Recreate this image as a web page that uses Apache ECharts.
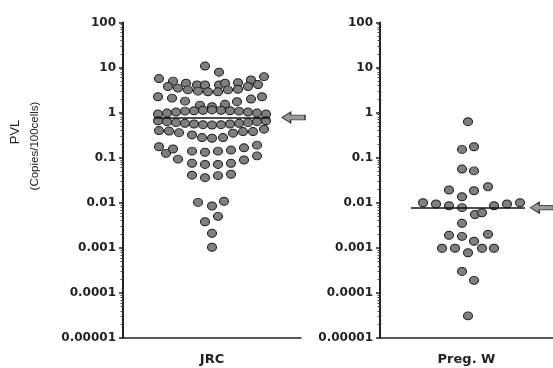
<!DOCTYPE html>
<html>
<head>
<meta charset="utf-8">
<script src="https://cdn.jsdelivr.net/npm/echarts@6/dist/echarts.min.js"></script>
<style>
  html, body { margin: 0; padding: 0; background: #fff; }
  #chart { width: 553px; height: 368px; }
</style>
</head>
<body>
<div id="chart"></div>
<script>
// groups (x-axis categories)
var categories = ["JRC", "Preg. W"];
// y-axis decade labels, 1e-5 .. 1e2
var decadeLabels = ["0.00001", "0.0001", "0.001", "0.01", "0.1", "1", "10", "100"];

// JRC: horizontal spread inside the column (beeswarm offset) and PVL values
var jrcSpread = [
  -7, 7,
  -53, -39, -26, -15, -7, 7, 13, 26, 39, 52,
  -44, -34, -24, -14, -4, 6, 16, 26, 36, 46,
  -54, -40, -27, -12, 0, 13, 25, 39, 50,
  -54, -45, -36, -27, -18, -9, 0, 9, 18, 27, 36, 45, 54,
  -54, -45, -36, -27, -18, -9, 0, 9, 18, 27, 36, 45, 54,
  -53, -43, -33, -20, -10, 0, 11, 21, 31, 41, 52,
  -53, -46, -39, -34, -20, -7, 6, 19, 32, 45,
  -20, -7, 6, 19, 32, 45,
  -20, -7, 6, 19,
  -14, 0, 12, 6, -7, 0, 0
];
var jrcValues = [
  10.8, 7.9,
  5.7, 5.0, 4.5, 4.1, 4.1, 4.1, 4.5, 4.6, 5.3, 6.3,
  3.8, 3.5, 3.2, 3.0, 2.9, 2.9, 3.2, 3.3, 3.8, 4.2,
  2.25, 2.1, 1.8, 1.47, 1.35, 1.53, 1.75, 2.0, 2.25,
  0.93, 0.98, 1.03, 1.08, 1.1, 1.13, 1.15, 1.13, 1.1, 1.08, 1.03, 0.98, 0.93,
  0.66, 0.63, 0.6, 0.58, 0.56, 0.54, 0.53, 0.54, 0.56, 0.58, 0.6, 0.63, 0.66,
  0.40, 0.39, 0.36, 0.32, 0.28, 0.27, 0.28, 0.35, 0.38, 0.38, 0.43,
  0.175, 0.125, 0.156, 0.093, 0.14, 0.132, 0.14, 0.148, 0.166, 0.19,
  0.075, 0.071, 0.071, 0.075, 0.089, 0.11,
  0.041, 0.036, 0.040, 0.043,
  0.0102, 0.0085, 0.0108, 0.005, 0.0038, 0.0021, 0.00103
];
var jrcMedian = 0.78;

// Preg. W
var pregSpread = [
  1, -5, 7, -5, 7,
  -18, -5, 7, 21,
  -44, -31, -18, -5, 27, 40, 53,
  8, 15,
  -5,
  -18, -5, 21, 7,
  -25, -12, 1, 15, 27,
  -5, 7,
  1
];
var pregValues = [
  0.63, 0.153, 0.175, 0.056, 0.051,
  0.0192, 0.0136, 0.0185, 0.0227,
  0.0100, 0.0094, 0.0086, 0.0078, 0.0086, 0.0094, 0.0100,
  0.0055, 0.0060,
  0.0035,
  0.0019, 0.0018, 0.0020, 0.0014,
  0.00098, 0.00098, 0.00078, 0.00098, 0.00098,
  0.0003, 0.00019,
  0.000031
];
var pregMedian = 0.0078;

function zip(xs, ys) {
  return xs.map(function (x, i) { return [x, ys[i]]; });
}

var chart = echarts.init(document.getElementById("chart"));

var fontFamily = "DejaVu Sans, Verdana, sans-serif";
var arrowPath = "path://M0,6 L9,0 L9,3.5 L24,3.5 L24,8.5 L9,8.5 L9,12 Z";

function catAxis(gridIndex, name) {
  return {
    type: "category",
    gridIndex: gridIndex,
    data: [name],
    boundaryGap: true,
    axisLine: { onZero: false, lineStyle: { color: "#222", width: 1.5 } },
    axisTick: { alignWithLabel: true, length: 4, lineStyle: { color: "#222", width: 1.5 } },
    axisLabel: { margin: 15, color: "#222", fontWeight: "bold", fontSize: 13, fontFamily: fontFamily },
  };
}
function spreadAxis(gridIndex, min, max) {
  return {
    type: "value",
    gridIndex: gridIndex,
    min: min,
    max: max,
    show: false,
    axisLine: { onZero: false },
    splitLine: { show: false },
  };
}
function logAxis(gridIndex) {
  return {
    type: "log",
    logBase: 10,
    gridIndex: gridIndex,
    min: 0.00001,
    max: 100,
    interval: 1,
    axisLine: { show: true, onZero: false, lineStyle: { color: "#222", width: 2 } },
    axisTick: { show: true, length: 4, lineStyle: { color: "#222", width: 1.5 } },
    minorTick: { show: true, splitNumber: 9, length: 2.5, lineStyle: { color: "#444", width: 1 } },
    splitLine: { show: false },
    axisLabel: {
      margin: 7,
      color: "#222",
      fontWeight: "bold",
      fontSize: 12,
      fontFamily: fontFamily,
      formatter: function (v) {
        var k = Math.round(Math.log10(v)) + 5;
        return decadeLabels[k] || "";
      },
    },
  };
}
function dotSeries(xIdx, yIdx, spread, values, median, lineFrom, lineTo, arrowX) {
  return {
    type: "scatter",
    xAxisIndex: xIdx,
    yAxisIndex: yIdx,
    symbol: "circle",
    symbolSize: [9, 8],
    itemStyle: { color: "#7f7f7f", borderColor: "#1a1a1a", borderWidth: 1, opacity: 1 },
    data: zip(spread, values),
    markLine: {
      silent: true,
      symbol: "none",
      label: { show: false },
      lineStyle: { color: "#111", width: 1.5, type: "solid" },
      data: [[{ coord: [lineFrom, median] }, { coord: [lineTo, median] }]],
    },
    markPoint: {
      silent: true,
      symbol: arrowPath,
      symbolSize: [23, 11],
      label: { show: false },
      itemStyle: { color: "#9a9a9a", borderColor: "#333", borderWidth: 1 },
      data: [{ coord: [arrowX, median] }],
    },
  };
}

chart.setOption({
  animation: false,
  backgroundColor: "#fff",
  grid: [
    { left: 123, right: 252, top: 22.5, bottom: 30 },
    { left: 380, right: 0, top: 22.5, bottom: 30 },
  ],
  xAxis: [
    catAxis(0, categories[0]),
    spreadAxis(0, -89, 89),
    catAxis(1, categories[1]),
    spreadAxis(1, -87, 86),
  ],
  yAxis: [logAxis(0), logAxis(1)],
  graphic: [
    {
      type: "text",
      x: 15,
      y: 132,
      rotation: Math.PI / 2,
      style: { text: "PVL", fontSize: 13, fontFamily: "Liberation Sans, Arial, sans-serif", fill: "#222", align: "center", verticalAlign: "middle" },
    },
    {
      type: "text",
      x: 35,
      y: 146,
      rotation: Math.PI / 2,
      style: { text: "(Copies/100cells)", fontSize: 11.5, fontFamily: "Liberation Sans, Arial, sans-serif", fill: "#222", align: "center", verticalAlign: "middle" },
    },
  ],
  series: [
    dotSeries(1, 0, jrcSpread, jrcValues, jrcMedian, -58, 58, 81.5),
    dotSeries(3, 1, pregSpread, pregValues, pregMedian, -56, 58, 75),
  ],
});
</script>
</body>
</html>
